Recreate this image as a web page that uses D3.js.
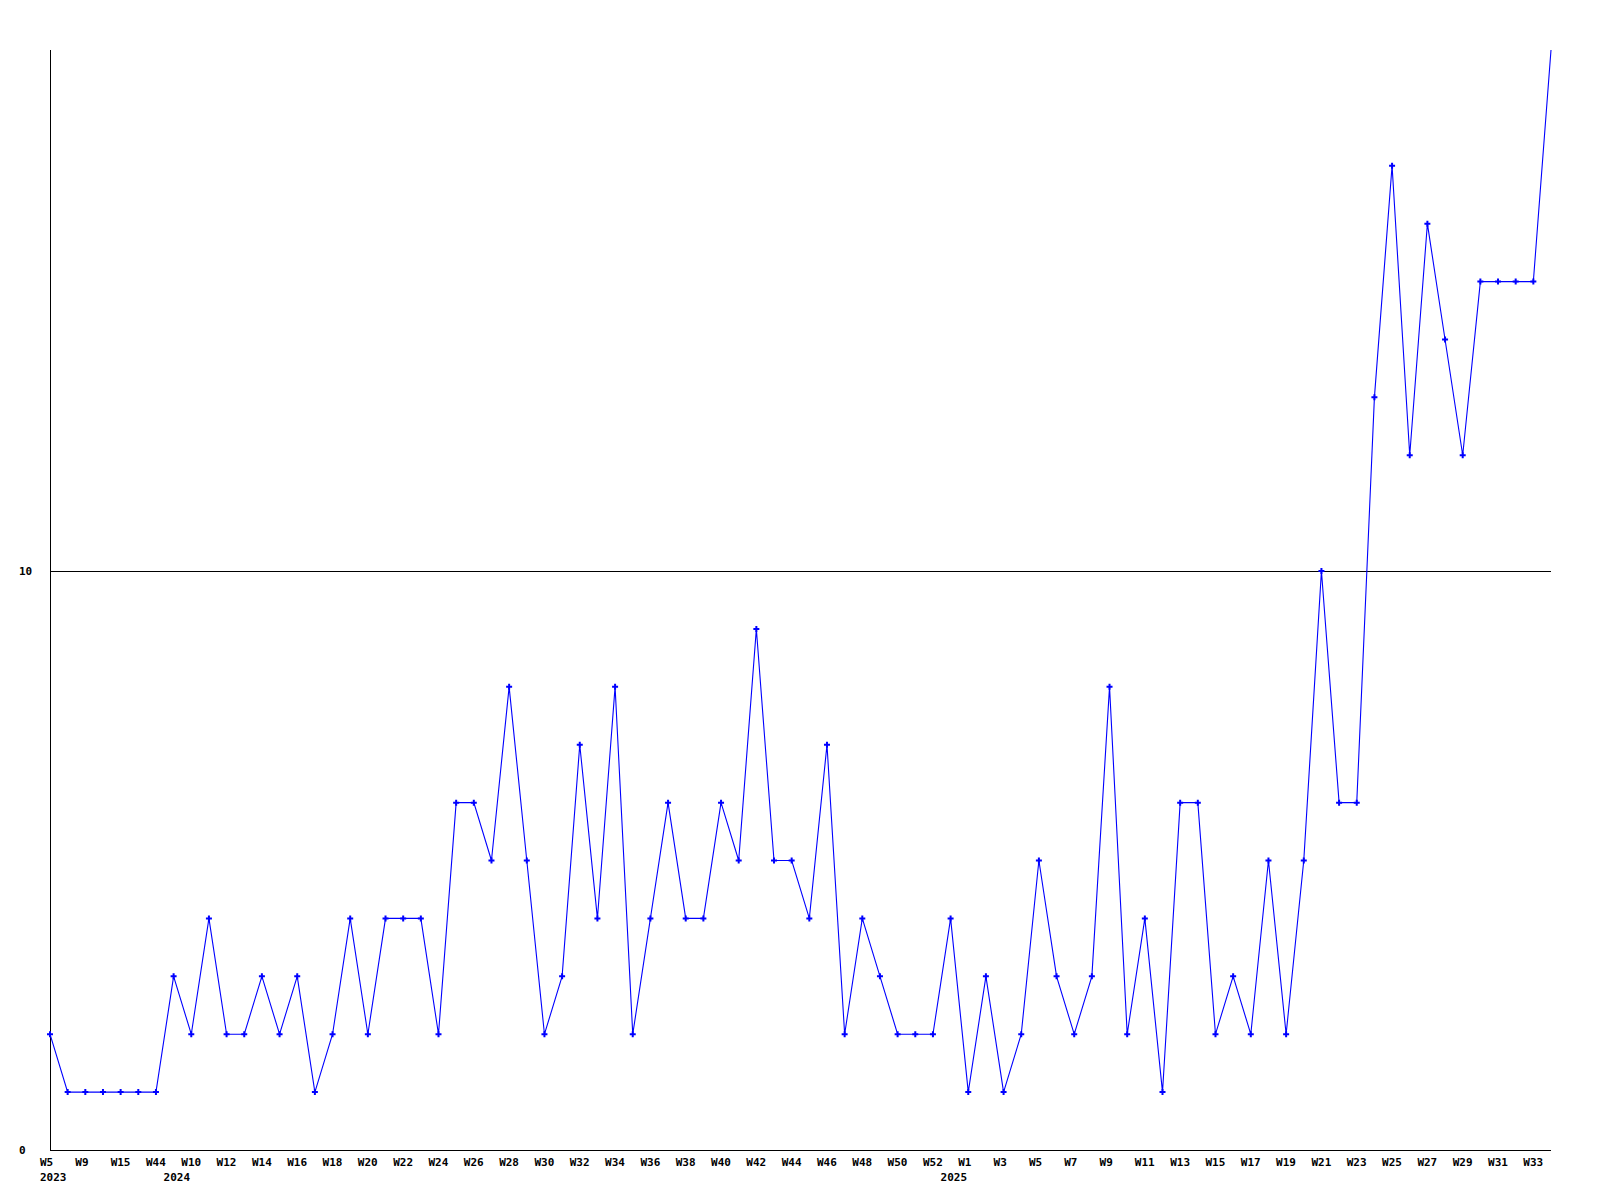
<!DOCTYPE html>
<html>
<head>
<meta charset="utf-8">
<script src="https://cdn.jsdelivr.net/npm/d3@7"></script>
<style>
  html, body { margin: 0; padding: 0; background: #fff; }
  text { font-family: "DejaVu Sans Mono", "Liberation Mono", monospace; font-weight: bold; font-size: 11px; fill: #000; }
</style>
</head>
<body>
<svg id="chart" width="1600" height="1200"></svg>
<script>
// ---- data ----
const weeks2023 = ["W5", "W7", "W9", "W12", "W15", "W20", "W44"];
const weeks2024 = ["W9", "W10", "W11", "W12", "W13", "W14", "W15", "W16", "W17", "W18", "W19", "W20",
  "W21", "W22", "W23", "W24", "W25", "W26", "W27", "W28", "W29", "W30", "W31", "W32", "W33", "W34",
  "W35", "W36", "W37", "W38", "W39", "W40", "W41", "W42", "W43", "W44", "W45", "W46", "W47", "W48",
  "W49", "W50", "W51", "W52"];
const weeks2025 = ["W0", "W1", "W2", "W3", "W4", "W5", "W6", "W7", "W8", "W9", "W10", "W11", "W12",
  "W13", "W14", "W15", "W16", "W17", "W18", "W19", "W20", "W21", "W22", "W23", "W24", "W25", "W26",
  "W27", "W28", "W29", "W30", "W31", "W32", "W33", "W34"];
const yearLabels = ["2023", "2024", "2025"];
const values = [2, 1, 1, 1, 1, 1, 1, 3, 2, 4,
  2, 2, 3, 2, 3, 1, 2, 4, 2, 4,
  4, 4, 2, 6, 6, 5, 8, 5, 2, 3,
  7, 4, 8, 2, 4, 6, 4, 4, 6, 5,
  9, 5, 5, 4, 7, 2, 4, 3, 2, 2,
  2, 4, 1, 3, 1, 2, 5, 3, 2, 3,
  8, 2, 4, 1, 6, 6, 2, 3, 2, 5,
  2, 5, 10, 6, 6, 13, 17, 12, 16, 14,
  12, 15, 15, 15, 15, 19];
const yTicks = [0, 10];
const yMax = 19;

(function () {
  // ---- build categories ----
  const categories = [];
  [weeks2023, weeks2024, weeks2025].forEach((wk, yi) => {
    wk.forEach((w, i) => categories.push({ key: yearLabels[yi] + "-" + w, week: w, year: yearLabels[yi], firstOfYear: i === 0 }));
  });
  const points = categories.map((c, i) => ({ ...c, idx: i, value: values[i] }));

  // ---- layout ----
  const pLeft = 50, pRight = 1551, pTop = 50, pBottom = 1150;
  const svg = d3.select("#chart");

  const x = d3.scalePoint().domain(categories.map(c => c.key)).range([pLeft, pRight]);
  const y = d3.scaleLinear().domain([0, yMax]).range([pBottom, pTop]);

  // gridline at 10
  svg.append("g").selectAll("line")
    .data(yTicks.filter(t => t > 0))
    .join("line")
    .attr("x1", pLeft).attr("x2", pRight)
    .attr("y1", d => Math.round(y(d)) + 0.5).attr("y2", d => Math.round(y(d)) + 0.5)
    .attr("stroke", "#000").attr("stroke-width", 1);

  // axes lines
  svg.append("line").attr("x1", pLeft + 0.5).attr("x2", pLeft + 0.5).attr("y1", pTop).attr("y2", pBottom)
    .attr("stroke", "#000").attr("stroke-width", 1);
  svg.append("line").attr("x1", pLeft).attr("x2", pRight).attr("y1", pBottom + 0.5).attr("y2", pBottom + 0.5)
    .attr("stroke", "#000").attr("stroke-width", 1);

  // y tick labels
  svg.append("g").selectAll("text")
    .data(yTicks)
    .join("text")
    .attr("x", 19)
    .attr("y", d => y(d) + 4)
    .text(d => d);

  // x tick labels (every other category) and year labels
  svg.append("g").selectAll("text")
    .data(points.filter(p => p.idx % 2 === 0))
    .join("text")
    .attr("x", d => x(d.key) - 10)
    .attr("y", pBottom + 16)
    .text(d => d.week);

  svg.append("g").selectAll("text")
    .data(points.filter(p => p.firstOfYear))
    .join("text")
    .attr("x", d => x(d.key) - 10)
    .attr("y", pBottom + 31)
    .text(d => d.year);

  // line
  const line = d3.line().x(d => x(d.key)).y(d => y(d.value));
  svg.append("path")
    .datum(points)
    .attr("d", line)
    .attr("fill", "none")
    .attr("stroke", "#0000ff")
    .attr("stroke-width", 1.1);

  // markers
  svg.append("g").selectAll("path")
    .data(points.filter(p => p.value < yMax))
    .join("path")
    .attr("transform", d => `translate(${x(d.key)},${y(d.value)})`)
    .attr("d", d3.symbol(d3.symbolCross, 20))
    .attr("fill", "#0000ff");
})();
</script>
</body>
</html>
